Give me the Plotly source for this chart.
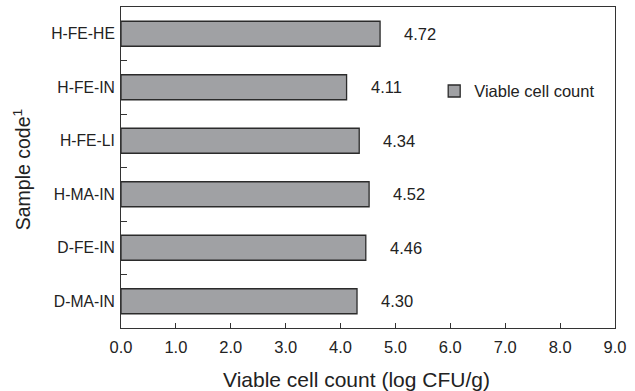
import plotly.graph_objects as go

categories = ["D-MA-IN", "D-FE-IN", "H-MA-IN", "H-FE-LI", "H-FE-IN", "H-FE-HE"]
values = [4.30, 4.46, 4.52, 4.34, 4.11, 4.72]
value_labels = ["4.30", "4.46", "4.52", "4.34", "4.11", "4.72"]
x_ticks = [0, 1, 2, 3, 4, 5, 6, 7, 8, 9]
series_name = "Viable cell count"
x_title = "Viable cell count (log CFU/g)"
y_title = "Sample code<sup>1</sup>"

FONT = "Liberation Sans, Arial, sans-serif"
TXT = "#222222"

fig = go.Figure()
fig.add_trace(go.Bar(
    y=categories, x=values, orientation="h", name=series_name,
    marker=dict(color="#a0a1a4", line=dict(color="#2b2b2b", width=1.3)),
    width=0.467, showlegend=True,
))

for c, v, t in zip(categories, values, value_labels):
    fig.add_annotation(x=v, y=c, text=t, showarrow=False, xanchor="left",
                       yanchor="middle", xshift=22,
                       font=dict(family=FONT, size=16.5, color=TXT))

fig.add_annotation(xref="paper", yref="paper", x=0.476, y=-0.159, text=x_title,
                   showarrow=False, xanchor="center", yanchor="middle",
                   font=dict(family=FONT, size=21, color=TXT))
fig.add_annotation(xref="paper", yref="paper", x=-0.2, y=0.492, text=y_title,
                   showarrow=False, xanchor="center", yanchor="middle", textangle=-90,
                   font=dict(family=FONT, size=19.5, color=TXT))

fig.update_layout(
    width=635, height=391,
    margin=dict(l=121, r=20, t=7, b=63),
    paper_bgcolor="white", plot_bgcolor="white",
    font=dict(family=FONT, color=TXT),
    showlegend=True,
    legend=dict(x=0.634, y=0.792, xanchor="left", yanchor="top",
                bgcolor="rgba(0,0,0,0)", font=dict(family=FONT, size=16.5, color=TXT)),
    xaxis=dict(range=[0, 9], tickvals=x_ticks, ticktext=[f"{t:.1f}" for t in x_ticks],
               ticks="inside", ticklen=5, tickcolor="#333", showline=True, linecolor="#333",
               linewidth=1, mirror=True, showgrid=False, zeroline=False,
               tickfont=dict(family=FONT, size=16.5, color=TXT), ticklabelstandoff=4),
    yaxis=dict(categoryorder="array", categoryarray=categories,
               ticks="inside", tickson="boundaries", ticklen=6, tickcolor="#333",
               showline=True, linecolor="#333", linewidth=1, mirror=True, showgrid=False,
               tickfont=dict(family=FONT, size=15.7, color=TXT), ticklabelstandoff=2),
)

fig.write_html("out.html", config={"displayModeBar": False},
               post_script="document.body.style.margin='0px';")
